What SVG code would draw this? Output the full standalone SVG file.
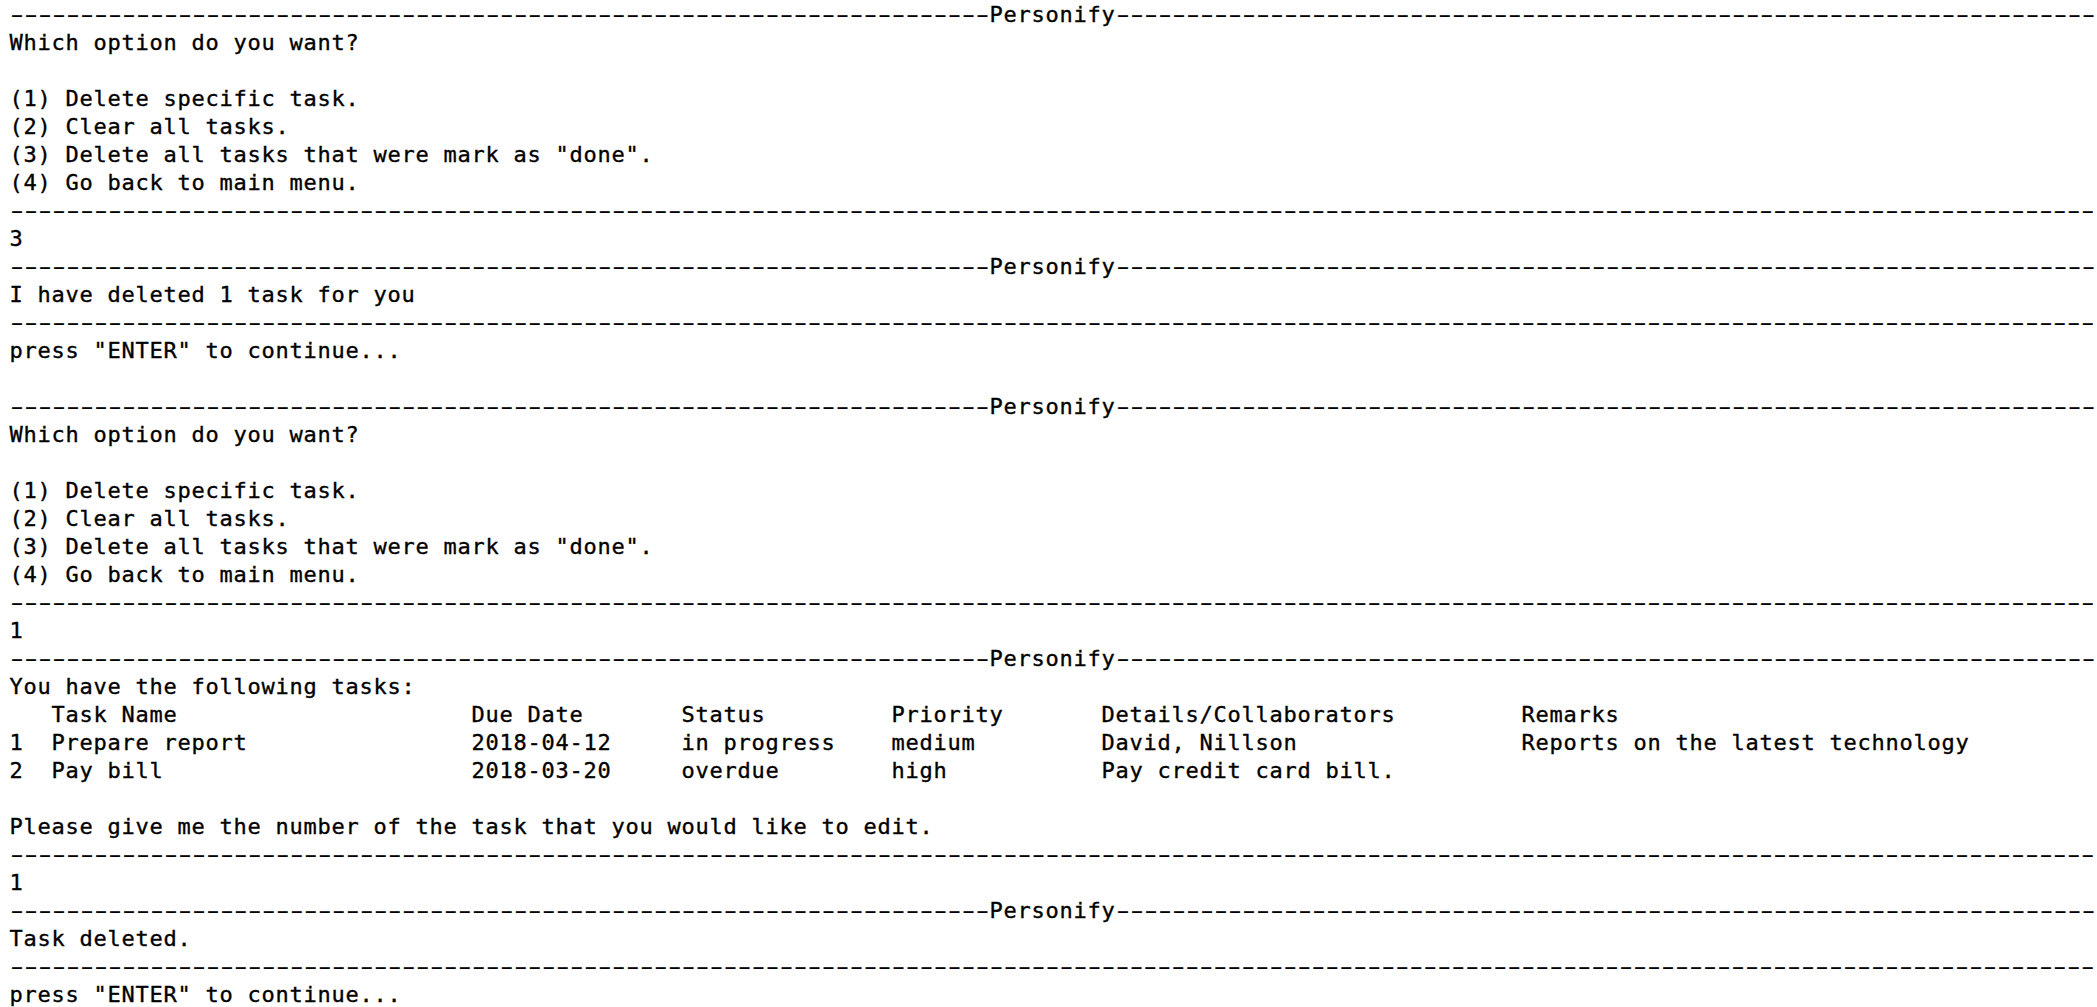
<svg xmlns="http://www.w3.org/2000/svg" width="2097" height="1007" viewBox="0 0 2097 1007">
<style>
text{font-family:"DejaVu Sans Mono","Liberation Mono",monospace;font-size:22px;letter-spacing:0.755px;fill:#000;stroke:#000;stroke-width:0.35px;white-space:pre}
text.d{letter-spacing:-5.01px;stroke-width:0.25px}
</style>
<rect width="2097" height="1007" fill="#fff"/>
<g id="screen1">
<text class="d" transform="translate(5.742,21.5) scale(1.7,1)">----------------------------------------------------------------------</text>
<text x="989.5" y="21.5">Personify</text>
<text class="d" transform="translate(1111.742,21.5) scale(1.7,1)">----------------------------------------------------------------------</text>
<text x="9.5" y="49.5">Which option do you want?</text>
<text x="9.5" y="105.5">(1) Delete specific task.</text>
<text x="9.5" y="133.5">(2) Clear all tasks.</text>
<text x="9.5" y="161.5">(3) Delete all tasks that were mark as "done".</text>
<text x="9.5" y="189.5">(4) Go back to main menu.</text>
<text class="d" transform="translate(5.742,217.5) scale(1.7,1)">-----------------------------------------------------------------------------------------------------------------------------------------------------</text>
<text x="9.5" y="245.5">3</text>
</g>
<g id="screen2">
<text class="d" transform="translate(5.742,273.5) scale(1.7,1)">----------------------------------------------------------------------</text>
<text x="989.5" y="273.5">Personify</text>
<text class="d" transform="translate(1111.742,273.5) scale(1.7,1)">----------------------------------------------------------------------</text>
<text x="9.5" y="301.5">I have deleted 1 task for you</text>
<text class="d" transform="translate(5.742,329.5) scale(1.7,1)">-----------------------------------------------------------------------------------------------------------------------------------------------------</text>
<text x="9.5" y="357.5">press "ENTER" to continue...</text>
</g>
<g id="screen3">
<text class="d" transform="translate(5.742,413.5) scale(1.7,1)">----------------------------------------------------------------------</text>
<text x="989.5" y="413.5">Personify</text>
<text class="d" transform="translate(1111.742,413.5) scale(1.7,1)">----------------------------------------------------------------------</text>
<text x="9.5" y="441.5">Which option do you want?</text>
<text x="9.5" y="497.5">(1) Delete specific task.</text>
<text x="9.5" y="525.5">(2) Clear all tasks.</text>
<text x="9.5" y="553.5">(3) Delete all tasks that were mark as "done".</text>
<text x="9.5" y="581.5">(4) Go back to main menu.</text>
<text class="d" transform="translate(5.742,609.5) scale(1.7,1)">-----------------------------------------------------------------------------------------------------------------------------------------------------</text>
<text x="9.5" y="637.5">1</text>
</g>
<g id="screen4">
<text class="d" transform="translate(5.742,665.5) scale(1.7,1)">----------------------------------------------------------------------</text>
<text x="989.5" y="665.5">Personify</text>
<text class="d" transform="translate(1111.742,665.5) scale(1.7,1)">----------------------------------------------------------------------</text>
<text x="9.5" y="693.5">You have the following tasks:</text>
<g id="table">
<text x="51.5" y="721.5">Task Name</text>
<text x="471.5" y="721.5">Due Date</text>
<text x="681.5" y="721.5">Status</text>
<text x="891.5" y="721.5">Priority</text>
<text x="1101.5" y="721.5">Details/Collaborators</text>
<text x="1521.5" y="721.5">Remarks</text>
<text x="9.5" y="749.5">1</text>
<text x="51.5" y="749.5">Prepare report</text>
<text x="471.5" y="749.5">2018-04-12</text>
<text x="681.5" y="749.5">in progress</text>
<text x="891.5" y="749.5">medium</text>
<text x="1101.5" y="749.5">David, Nillson</text>
<text x="1521.5" y="749.5">Reports on the latest technology</text>
<text x="9.5" y="777.5">2</text>
<text x="51.5" y="777.5">Pay bill</text>
<text x="471.5" y="777.5">2018-03-20</text>
<text x="681.5" y="777.5">overdue</text>
<text x="891.5" y="777.5">high</text>
<text x="1101.5" y="777.5">Pay credit card bill.</text>
</g>
<text x="9.5" y="833.5">Please give me the number of the task that you would like to edit.</text>
<text class="d" transform="translate(5.742,861.5) scale(1.7,1)">-----------------------------------------------------------------------------------------------------------------------------------------------------</text>
<text x="9.5" y="889.5">1</text>
</g>
<g id="screen5">
<text class="d" transform="translate(5.742,917.5) scale(1.7,1)">----------------------------------------------------------------------</text>
<text x="989.5" y="917.5">Personify</text>
<text class="d" transform="translate(1111.742,917.5) scale(1.7,1)">----------------------------------------------------------------------</text>
<text x="9.5" y="945.5">Task deleted.</text>
<text class="d" transform="translate(5.742,973.5) scale(1.7,1)">-----------------------------------------------------------------------------------------------------------------------------------------------------</text>
<text x="9.5" y="1001.5">press "ENTER" to continue...</text>
</g>
</svg>
